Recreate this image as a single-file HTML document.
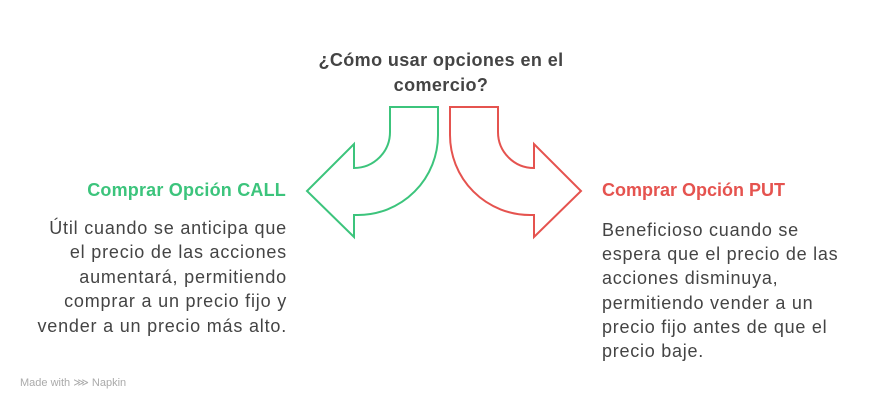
<!DOCTYPE html>
<html><head><meta charset="utf-8"><style>
body{margin:0;width:877px;height:408px;background:#fff;position:relative;font-family:"Liberation Sans",sans-serif;overflow:hidden}
.t{position:absolute;color:#444;white-space:nowrap}
</style></head><body>
<div class="t" style="left:291px;top:48px;width:300px;text-align:center;font-weight:bold;font-size:18px;line-height:25px;letter-spacing:0.4px">¿Cómo usar opciones en el<br>comercio?</div>
<svg width="877" height="408" style="position:absolute;left:0;top:0">
<path d="M390,107 L438,107 L438,135 A80,80 0 0 1 358,215 L354,215 L354,237 L307,191 L354,144 L354,168 A36,36 0 0 0 390,132 Z" fill="none" stroke="#3cc47c" stroke-width="2" stroke-linejoin="miter"/>
<path d="M498,107 L450,107 L450,135 A80,80 0 0 0 530,215 L534,215 L534,237 L581,191 L534,144 L534,168 A36,36 0 0 1 498,132 Z" fill="none" stroke="#e5534f" stroke-width="2"/>
</svg>
<div class="t" style="left:40px;top:180px;width:246px;text-align:right;font-weight:bold;font-size:18px;color:#3cc47c;letter-spacing:0.2px">Comprar Opción CALL</div>
<div class="t" style="left:0px;top:216px;width:287px;text-align:right;font-size:18px;line-height:24.4px;letter-spacing:0.8px">Útil cuando se anticipa que<br>el precio de las acciones<br>aumentará, permitiendo<br>comprar a un precio fijo y<br>vender a un precio más alto.</div>
<div class="t" style="left:602px;top:180px;width:260px;font-weight:bold;font-size:18px;color:#e5534f">Comprar Opción PUT</div>
<div class="t" style="left:602px;top:218px;width:260px;font-size:18px;line-height:24.2px;letter-spacing:0.75px">Beneficioso cuando se<br>espera que el precio de las<br>acciones disminuya,<br>permitiendo vender a un<br>precio fijo antes de que el<br>precio baje.</div>
<div class="t" style="left:20px;top:376px;font-size:11px;color:#aaa">Made with ⋙ Napkin</div>
</body></html>
